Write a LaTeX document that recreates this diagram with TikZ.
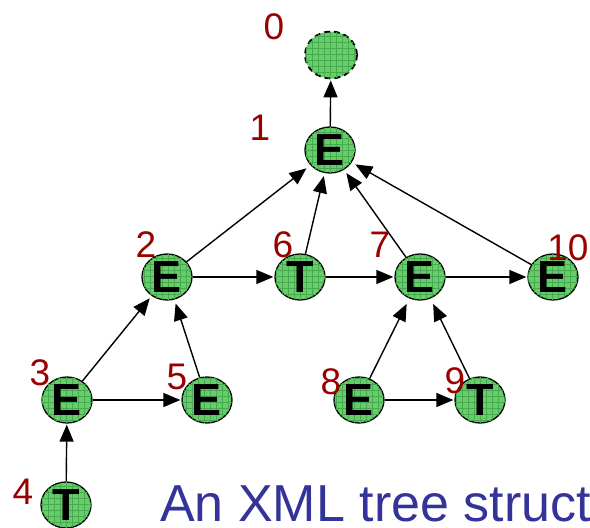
\documentclass[tikz,border=0pt]{standalone}
\usepackage{fontspec}
\setmainfont{Liberation Sans}
\usetikzlibrary{shapes.geometric,arrows.meta,patterns.meta}
\definecolor{elemgreen}{RGB}{104,204,104}
\definecolor{gridgreen}{RGB}{70,170,80}
\definecolor{numred}{RGB}{153,0,0}
\definecolor{titleblue}{RGB}{51,51,153}

\begin{document}
\begin{tikzpicture}[x=1pt,y=-1pt,
  vertex/.style={ellipse,draw,line width=1.3pt,fill=elemgreen,
    postaction={pattern={Lines[distance=6pt,angle=0,line width=0.6pt]},pattern color=gridgreen},
    postaction={pattern={Lines[distance=6pt,angle=90,line width=0.6pt]},pattern color=gridgreen},
    minimum width=50pt,minimum height=46pt,inner sep=0pt,
    font=\fontsize{45}{45}\selectfont\bfseries},
  num/.style={text=numred,inner sep=0pt,font=\fontsize{37}{37}\selectfont},
  edge/.style={line width=1.4pt,-{Triangle[length=17pt,width=14pt]},shorten >=1pt}]
\clip (0,0) rectangle (590,528);
\useasboundingbox (0,0) rectangle (590,528);

\node[vertex,dashed,dash pattern=on 6pt off 4pt,line width=1.8pt,
  minimum width=52pt,minimum height=47pt] (n0) at (331,55) {};
\node[vertex] (n1) at (330,150) {E};
\node[vertex] (n2) at (167,277) {E};
\node[vertex] (n6) at (300,277) {T};
\node[vertex] (n7) at (420,277) {E};
\node[vertex] (n10) at (553,277) {E};
\node[vertex] (n3) at (67,400) {E};
\node[vertex] (n5) at (207,400) {E};
\node[vertex] (n4) at (66,505) {T};
\node[vertex] (n8) at (359,400) {E};
\node[vertex] (n9) at (480,400) {T};

\node[num] (l0) at (274,27) {0};
\node[num] (l1) at (260,128) {1};
\node[num] (l2) at (146,245) {2};
\node[num] (l6) at (283,245) {6};
\node[num] (l7) at (380,245) {7};
\node[num] (l10) at (568,248) {10};
\node[num] (l3) at (40,373) {3};
\node[num] (l5) at (177,377) {5};
\node[num] (l4) at (23,492) {4};
\node[num] (l8) at (331,382) {8};
\node[num] (l9) at (455,381) {9};

\draw[edge] (n1) -- (n0);
\draw[edge,shorten >=5pt] (n2) -- (n1);
\draw[edge,shorten >=3pt] (n6) -- (n1);
\draw[edge,shorten >=4pt] (n7) -- (n1);
\draw[edge,shorten >=4pt] (n10) -- (n1);
\draw[edge] (n2) -- (n6);
\draw[edge] (n6) -- (n7);
\draw[edge] (n7) -- (n10);
\draw[edge,shorten >=3pt] (n3) -- (n2);
\draw[edge,shorten >=4pt] (n5) -- (n2);
\draw[edge] (n3) -- (n5);
\draw[edge] (n4) -- (n3);
\draw[edge,shorten >=6pt] (n8) -- (n7);
\draw[edge,shorten >=6pt] (n9) -- (n7);
\draw[edge] (n8) -- (n9);

\node[text=titleblue,anchor=base west,inner sep=0pt,
  font=\fontsize{52}{52}\selectfont] (title) at (160,521) {An XML tree structure};
\end{tikzpicture}
\end{document}
